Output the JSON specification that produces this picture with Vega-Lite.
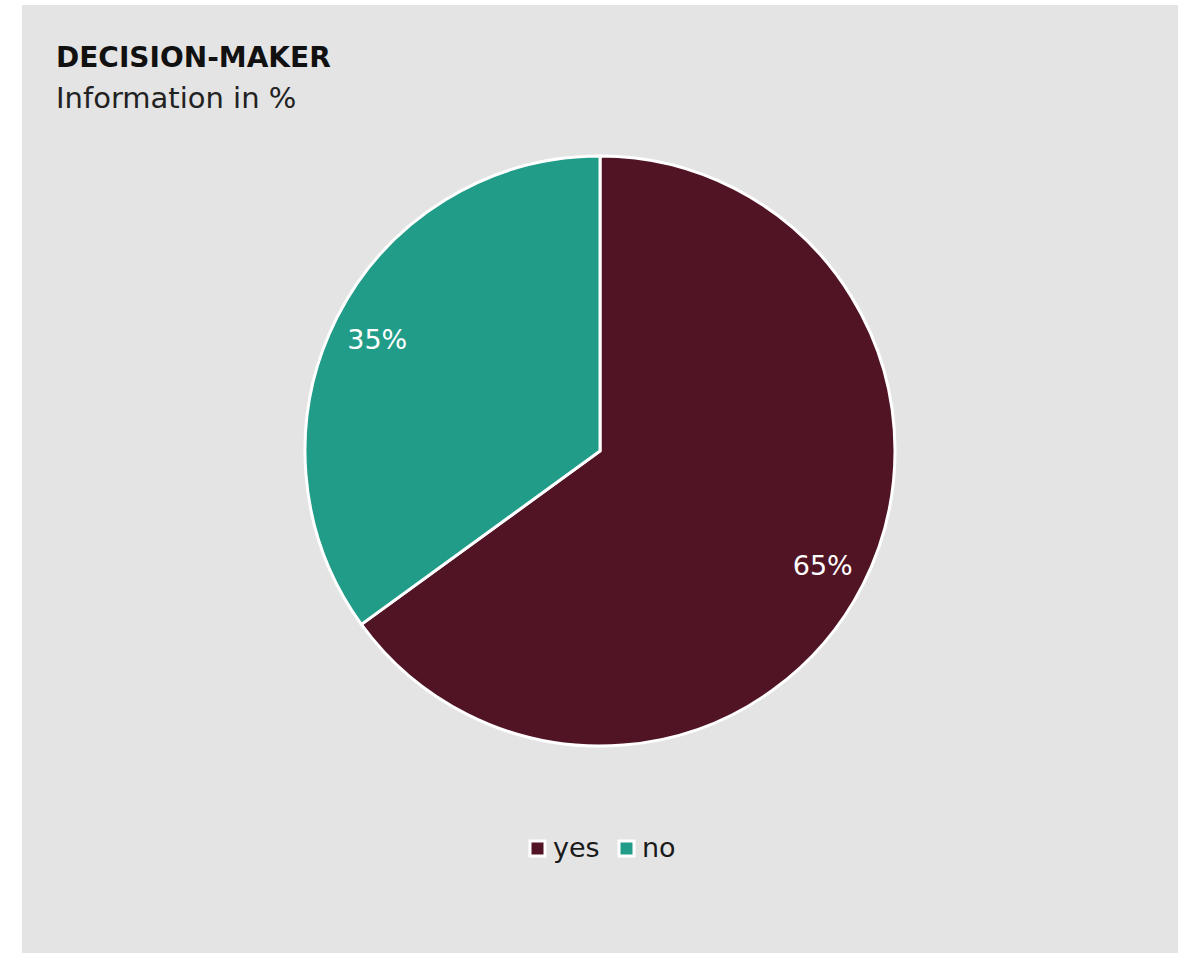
{
  "$schema": "https://vega.github.io/schema/vega-lite/v6.json",
  "autosize": {"type": "pad"},
  "padding": {"left": 22, "top": 5, "right": 14, "bottom": 0},
  "background": "#ffffff",
  "bounds": "flush",
  "spacing": 0,
  "config": {
    "view": {"stroke": null, "fill": "#e4e4e4"},
    "font": "DejaVu Sans",
    "legend": {"layout": {"bottom": {"anchor": "middle"}}}
  },
  "vconcat": [
    {
      "width": 1156,
      "height": 892,
      "view": {"fill": "#e4e4e4", "stroke": null},
      "title": {
        "text": "DECISION-MAKER",
        "subtitle": "Information in %",
        "anchor": "start",
        "frame": "group",
        "offset": 0,
        "dx": 34,
        "dy": 109,
        "font": "DejaVu Sans",
        "fontSize": 28,
        "fontWeight": "bold",
        "color": "#111111",
        "subtitleFont": "DejaVu Sans",
        "subtitleFontSize": 29,
        "subtitleColor": "#222222",
        "subtitlePadding": 12
      },
      "data": {
        "values": [
          {"answer": "yes", "share": 65, "label": "65%", "order": 1},
          {"answer": "no", "share": 35, "label": "35%", "order": 2}
        ]
      },
      "encoding": {
        "theta": {"field": "share", "type": "quantitative", "stack": true},
        "order": {"field": "order", "type": "quantitative"}
      },
      "layer": [
        {
          "mark": {"type": "arc", "outerRadius": 295, "stroke": "#ffffff", "strokeWidth": 3},
          "encoding": {
            "color": {
              "field": "answer",
              "type": "nominal",
              "scale": {"domain": ["yes", "no"], "range": ["#501425", "#219c88"]},
              "legend": {
                "title": null,
                "orient": "bottom",
                "direction": "horizontal",
                "offset": -118,
                "symbolType": "square",
                "symbolSize": 225,
                "symbolStrokeColor": "#ffffff",
                "symbolStrokeWidth": 3,
                "labelFontSize": 27,
                "labelColor": "#1a1a1a",
                "labelOffset": 2,
                "columnPadding": 13
              }
            }
          }
        },
        {
          "mark": {"type": "text", "radius": 250, "fontSize": 27, "font": "DejaVu Sans", "dy": 3},
          "encoding": {
            "text": {"field": "label", "type": "nominal"},
            "color": {"value": "#ffffff"}
          }
        }
      ]
    },
    {
      "width": 1156,
      "height": 56,
      "view": {"fill": "#e4e4e4", "stroke": null},
      "data": {"values": [{}]},
      "mark": {"type": "text", "text": ""}
    }
  ]
}
